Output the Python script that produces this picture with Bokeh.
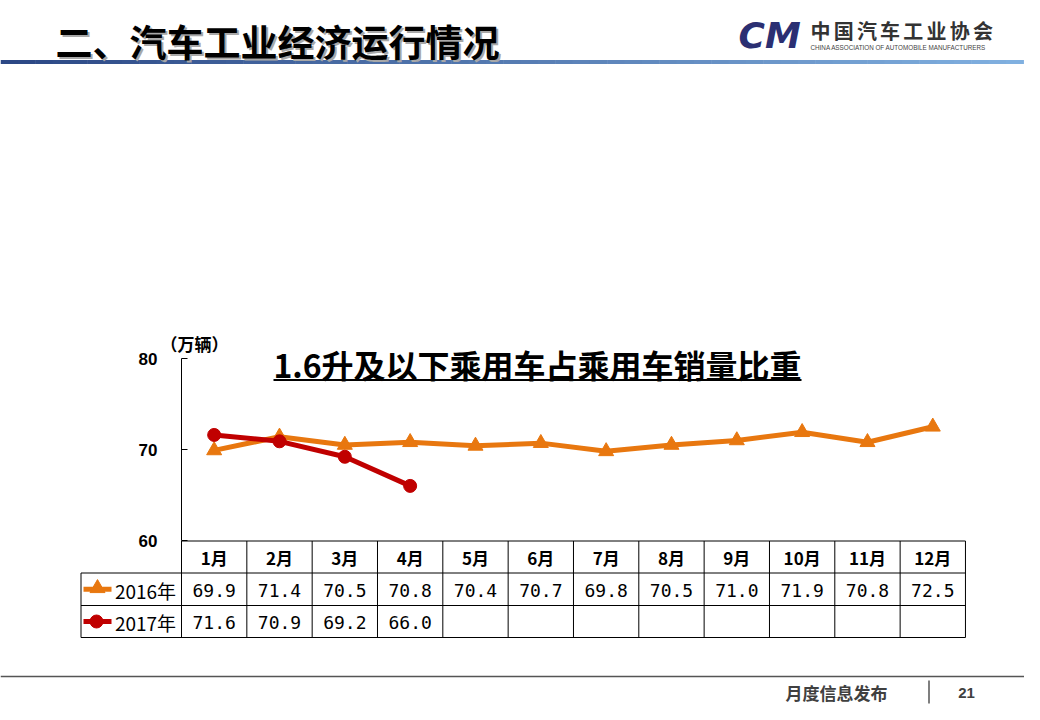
from bokeh.plotting import figure
from bokeh.models import Range1d
from bokeh.embed import file_html
from bokeh.resources import INLINE
from bokeh.core.properties import value
import numpy as np

# ---------------- data ----------------
months = ["1月", "2月", "3月", "4月", "5月", "6月", "7月", "8月", "9月", "10月", "11月", "12月"]
sales_2016 = [69.9, 71.4, 70.5, 70.8, 70.4, 70.7, 69.8, 70.5, 71.0, 71.9, 70.8, 72.5]
sales_2017 = [71.6, 70.9, 69.2, 66.0]
y_ticks = [60, 70, 80]
series_names = ["2016年", "2017年"]
chart_title = "1.6升及以下乘用车占乘用车销量比重"
unit_label = "（万辆）"
page_title = "二、汽车工业经济运行情况"
org_cn = "中国汽车工业协会"
org_en = "CHINA ASSOCIATION OF AUTOMOBILE MANUFACTURERS"
footer_text = "月度信息发布"
page_no = "21"

# ---------------- geometry / styles ----------------
W, H = 1024, 704
PX0, PY0 = 0, 0
AX_X = 181.0             # y-axis x position (px)
COL_W = 65.33            # month column width (px)
Y70 = 449.0              # pixel of value 70
PX_PER_UNIT = 9.1
ORANGE = "#E8770F"
RED = "#C00000"
CJK = value("Noto Sans CJK SC")

p = figure(width=W, height=H, output_backend="svg", toolbar_location=None,
           x_range=Range1d(PX0, PX0 + W), y_range=Range1d(PY0 + H, PY0),
           x_axis_type=None, y_axis_type=None, min_border=0,
           outline_line_color=None, background_fill_color="white",
           border_fill_color="white")
p.grid.visible = False

m_start = (PX0 - AX_X) / COL_W + 0.5
m_end = (PX0 + W - AX_X) / COL_W + 0.5
v_bottom = 70 - (PY0 + H - Y70) / PX_PER_UNIT
v_top = 70 + (Y70 - PY0) / PX_PER_UNIT
p.extra_x_ranges = {"m": Range1d(m_start, m_end)}
p.extra_y_ranges = {"v": Range1d(v_bottom, v_top)}

# ---------------- header ----------------
grad_n = 60
gx = np.linspace(0, 1040, grad_n + 1)
c0 = np.array([0x2C, 0x48, 0x85])
c1 = np.array([0x82, 0xB2, 0xE2])
cols = []
for i in range(grad_n):
    t = i / (grad_n - 1)
    c = (c0 * (1 - t) + c1 * t).astype(int)
    cols.append("#%02x%02x%02x" % tuple(c))
p.quad(left=gx[:-1], right=gx[1:] + 0.5, top=[59.5] * grad_n, bottom=[63.5] * grad_n,
       fill_color=cols, line_color=None)

p.text(x=[57], y=[42], text=[page_title], text_font=CJK, text_font_style="bold",
       text_font_size="37px", text_color="#a8a8a8", text_align="left",
       text_baseline="middle")
p.text(x=[55], y=[40], text=[page_title], text_font=CJK, text_font_style="bold",
       text_font_size="37px", text_color="#000000", text_align="left",
       text_baseline="middle")

# logo
p.text(x=[738], y=[35], text=["CM"], text_font=value("DejaVu Sans"),
       text_font_style="bold italic", text_font_size="36px", text_color="#2B2F72",
       text_align="left", text_baseline="middle")
cn_x = 810 + np.arange(len(org_cn)) * 23.2 + 10
p.text(x=cn_x, y=[30] * len(org_cn), text=list(org_cn), text_font=CJK,
       text_font_style="bold", text_font_size="20px", text_color="#333333",
       text_align="center", text_baseline="middle")
p.text(x=[810], y=[47], text=[org_en], text_font=value("Liberation Sans"),
       text_font_size="6.3px", text_color="#444444", text_align="left",
       text_baseline="middle")

# ---------------- chart title ----------------
p.text(x=[537], y=[363], text=[chart_title], text_font=CJK, text_font_style="bold",
       text_font_size="32px", text_color="#000000", text_align="center",
       text_baseline="middle")
p.segment(x0=[273], y0=[379.5], x1=[801], y1=[379.5], line_color="#000000", line_width=2)

p.text(x=[194], y=[343], text=[unit_label], text_font=CJK, text_font_style="bold",
       text_font_size="17px", text_color="#000000", text_align="center",
       text_baseline="middle")

# ---------------- y axis ----------------
p.segment(x0=[AX_X], y0=[y_ticks[0]], x1=[AX_X], y1=[y_ticks[-1]],
          line_color="#000000", line_width=1, y_range_name="v")
p.segment(x0=[AX_X] * len(y_ticks), y0=y_ticks, x1=[AX_X + 6] * len(y_ticks), y1=y_ticks,
          line_color="#000000", line_width=1, y_range_name="v")
p.text(x=[157] * len(y_ticks), y=y_ticks, text=[str(t) for t in y_ticks],
       text_font=value("Liberation Sans"), text_font_style="bold", text_font_size="17px",
       text_color="#000000", text_align="right", text_baseline="middle", y_range_name="v")

# ---------------- series ----------------
x16 = list(range(1, len(sales_2016) + 1))
x17 = list(range(1, len(sales_2017) + 1))
p.line(x16, sales_2016, line_color=ORANGE, line_width=5, x_range_name="m", y_range_name="v")
p.scatter(x16, sales_2016, marker="triangle", size=15, fill_color=ORANGE, line_color=ORANGE,
          x_range_name="m", y_range_name="v")
p.line(x17, sales_2017, line_color=RED, line_width=5, x_range_name="m", y_range_name="v")
p.scatter(x17, sales_2017, marker="circle", size=13, fill_color=RED, line_color=RED,
          x_range_name="m", y_range_name="v")

# ---------------- data table ----------------
ROW_TOP, ROW1, ROW2, ROW_BOT = 540.5, 572.5, 605.0, 637.0
TABLE_LEFT = 80.5
n = len(months)
bounds = [k + 0.5 for k in range(n + 1)]
p.segment(x0=[0.5], y0=[ROW_TOP], x1=[n + 0.5], y1=[ROW_TOP], line_color="#000000",
          line_width=1, x_range_name="m")
p.segment(x0=bounds, y0=[ROW_TOP] * len(bounds), x1=bounds, y1=[ROW_BOT] * len(bounds),
          line_color="#000000", line_width=1, x_range_name="m")
for yy in (ROW1, ROW2, ROW_BOT):
    p.segment(x0=[TABLE_LEFT], y0=[yy], x1=[AX_X + n * COL_W], y1=[yy],
              line_color="#000000", line_width=1)
p.segment(x0=[TABLE_LEFT], y0=[ROW1], x1=[TABLE_LEFT], y1=[ROW_BOT],
          line_color="#000000", line_width=1)

p.text(x=x16, y=[(ROW_TOP + ROW1) / 2] * n, text=months, text_font=CJK,
       text_font_style="bold", text_font_size="17px", text_color="#000000",
       text_align="center", text_baseline="middle", x_range_name="m")
p.text(x=x16, y=[(ROW1 + ROW2) / 2 + 1] * n, text=[f"{v:.1f}" for v in sales_2016],
       text_font=value("DejaVu Sans Mono"), text_font_size="18px", text_color="#000000",
       text_align="center", text_baseline="middle", x_range_name="m")
p.text(x=x17, y=[(ROW2 + ROW_BOT) / 2 + 1] * len(x17), text=[f"{v:.1f}" for v in sales_2017],
       text_font=value("DejaVu Sans Mono"), text_font_size="18px", text_color="#000000",
       text_align="center", text_baseline="middle", x_range_name="m")

ly = [(ROW1 + ROW2) / 2, (ROW2 + ROW_BOT) / 2]
p.segment(x0=[83], y0=[ly[0]], x1=[111], y1=[ly[0]], line_color=ORANGE, line_width=5)
p.scatter([97], [ly[0] - 1], marker="triangle", size=15, fill_color=ORANGE, line_color=ORANGE)
p.segment(x0=[83], y0=[ly[1]], x1=[111], y1=[ly[1]], line_color=RED, line_width=5)
p.scatter([96], [ly[1]], marker="circle", size=13, fill_color=RED, line_color=RED)
p.text(x=[145, 145], y=[ly[0] + 1, ly[1] + 1], text=series_names, text_font=CJK,
       text_font_size="19px", text_color="#000000", text_align="center",
       text_baseline="middle")

# ---------------- footer (kept inside the 704px canvas) ----------------
p.segment(x0=[0], y0=[676], x1=[1024], y1=[676], line_color="#555555", line_width=1.5)
p.segment(x0=[928.5], y0=[680], x1=[928.5], y1=[703], line_color="#555555", line_width=1.5)
p.text(x=[836], y=[692], text=[footer_text], text_font=CJK, text_font_style="bold",
       text_font_size="17px", text_color="#404040", text_align="center",
       text_baseline="middle")
p.text(x=[966], y=[692], text=[page_no], text_font=value("Liberation Sans"),
       text_font_style="bold", text_font_size="15px", text_color="#404040",
       text_align="center", text_baseline="middle")

open("out.html", "w").write(file_html(p, INLINE))
